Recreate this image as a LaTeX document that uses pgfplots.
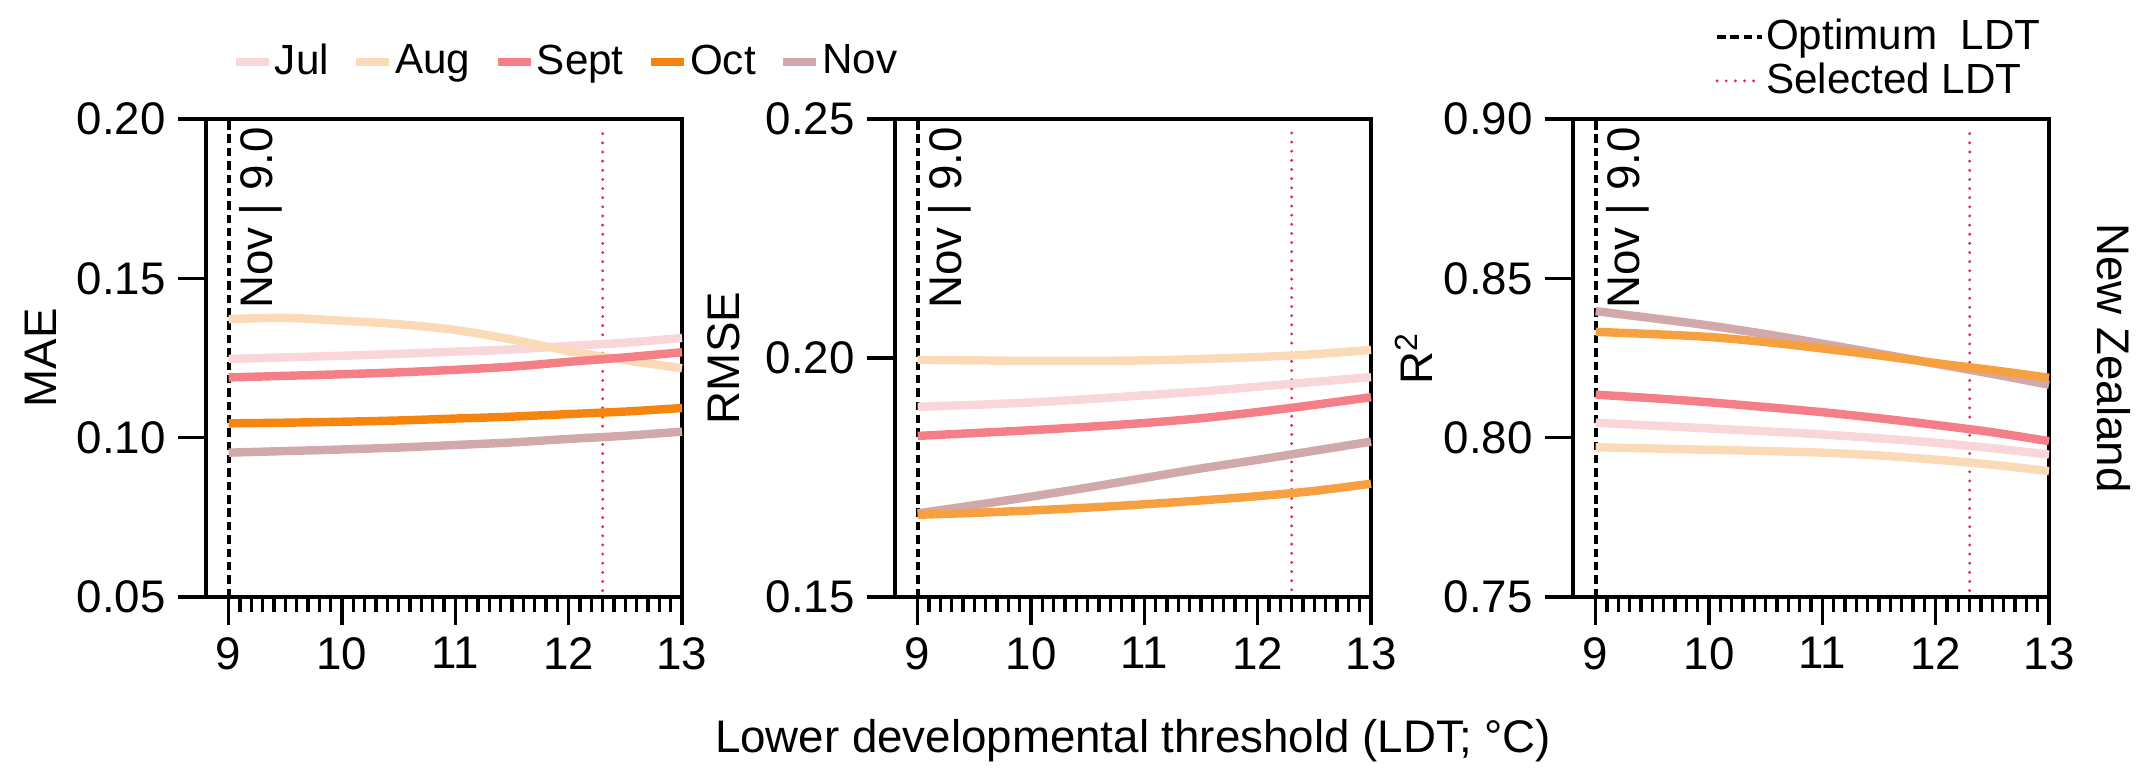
\documentclass[border=0pt]{standalone}
\usepackage{fontspec}
\setmainfont{Liberation Sans}
\usepackage{pgfplots}
\usepackage{pgfplotstable}
\pgfplotsset{compat=1.18}

\definecolor{cJul}{HTML}{F9D6DA}
\definecolor{cAug}{HTML}{FBDAB8}
\definecolor{cSep}{HTML}{F47F86}
\definecolor{cOctA}{HTML}{F5850F}
\definecolor{cOctB}{HTML}{F6A040}
\definecolor{cNov}{HTML}{D1A9AB}
\definecolor{cSel}{HTML}{E0284F}

\pgfplotstableread{
x    jul    aug    sept   oct    nov
9    0.1247 0.1372 0.1189 0.1045 0.0953
9.5  0.1252 0.1376 0.1194 0.1047 0.0958
10   0.1257 0.1367 0.1199 0.1050 0.0963
10.5 0.1263 0.1356 0.1205 0.1054 0.0969
11   0.1270 0.1338 0.1213 0.1060 0.0977
11.5 0.1277 0.1308 0.1223 0.1066 0.0985
12   0.1288 0.1272 0.1238 0.1074 0.0996
12.5 0.1298 0.1243 0.1252 0.1082 0.1006
13   0.1313 0.1218 0.1268 0.1093 0.1019
}\maetab

\pgfplotstableread{
x    jul    aug    sept   oct    nov
9    0.1898 0.1996 0.1837 0.1672 0.1675
9.5  0.1902 0.1995 0.1843 0.1676 0.1692
10   0.1907 0.1994 0.1849 0.1681 0.1710
10.5 0.1914 0.1994 0.1856 0.1687 0.1729
11   0.1922 0.1995 0.1864 0.1694 0.1749
11.5 0.1930 0.1998 0.1874 0.1702 0.1769
12   0.1940 0.2002 0.1887 0.1711 0.1787
12.5 0.1950 0.2008 0.1902 0.1722 0.1806
13   0.1960 0.2017 0.1918 0.1737 0.1825
}\rmsetab

\pgfplotstableread{
x    jul    aug    sept   oct    nov
9    0.8047 0.7970 0.8135 0.8332 0.8397
9.5  0.8038 0.7966 0.8124 0.8325 0.8375
10   0.8029 0.7962 0.8111 0.8316 0.8352
10.5 0.8020 0.7958 0.8096 0.8300 0.8325
11   0.8010 0.7953 0.8080 0.8280 0.8295
11.5 0.7998 0.7944 0.8061 0.8258 0.8264
12   0.7984 0.7931 0.8040 0.8234 0.8232
12.5 0.7967 0.7915 0.8017 0.8212 0.8200
13   0.7947 0.7895 0.7989 0.8188 0.8166
}\rtab

\pgfplotsset{
  panel/.style={
    scale only axis, width=47.6mm, height=47.8mm, anchor=south west,
    clip=false,
    xmin=8.8, xmax=13, xtick={9,10,11,12,13}, minor x tick num=9,
    tick align=outside, xtick pos=bottom, ytick pos=left,
    major tick length=2.8mm, minor tick length=1.5mm,
    axis line style={line width=1pt},
    tick style={black, line width=1pt},
    /pgf/number format/assume math mode=true,
    tick label style={font=\fontsize{13}{15}\selectfont},
    label style={font=\fontsize{13}{15}\selectfont},
    yticklabel style={/pgf/number format/.cd, fixed, fixed zerofill, precision=2},
    legend style={draw=none, fill=none, font=\fontsize{12}{14}\selectfont},
  },
  mline/.style={line width=2.4pt, smooth},
  optline/.style={black, line width=1.1pt, dash pattern=on 2.4pt off 1.4pt},
  selline/.style={cSel, line width=0.9pt, line cap=round, dash pattern=on 0pt off 2.6pt},
}

\begin{document}
\begin{tikzpicture}
\useasboundingbox (0,0) rectangle (215.3mm,77mm);

% ---------- MAE ----------
\begin{axis}[panel, at={(20.6mm,17.3mm)},
  ymin=0.05, ymax=0.20, ytick={0.05,0.10,0.15,0.20},
  ylabel={MAE}, ylabel style={at={(axis description cs:-0.347,0.5)}, anchor=center},
  legend columns=5,
  legend style={at={(axis description cs:0.03,1.119)}, anchor=west,
    /tikz/every even column/.append style={column sep=1.6mm},
    /tikz/every odd column/.append style={column sep=-0.5mm}},
  legend image code/.code={\draw[#1] (0mm,0mm) -- (3.3mm,0mm);}]
\addplot[optline, forget plot] coordinates {(9,0.05) (9,0.20)};
\addplot[selline, forget plot] coordinates {(12.3,0.052) (12.3,0.197)};
\addplot[mline, cJul] table[x=x, y=jul] {\maetab}; \addlegendentry{Jul}
\addplot[mline, cAug] table[x=x, y=aug] {\maetab}; \addlegendentry{Aug}
\addplot[mline, cSep] table[x=x, y=sept] {\maetab}; \addlegendentry{Sept}
\addplot[mline, cOctA] table[x=x, y=oct] {\maetab}; \addlegendentry{Oct}
\addplot[mline, cNov] table[x=x, y=nov] {\maetab}; \addlegendentry{Nov}
\node[rotate=90, anchor=north east, inner sep=0pt, font=\fontsize{13}{15}\selectfont]
  at (rel axis cs:0.069,0.985) {Nov | 9.0};
\end{axis}

% ---------- RMSE ----------
\begin{axis}[panel, at={(89.5mm,17.3mm)},
  ymin=0.15, ymax=0.25, ytick={0.15,0.20,0.25},
  ylabel={RMSE}, ylabel style={at={(axis description cs:-0.359,0.5)}, anchor=center},
  xlabel={Lower developmental threshold (LDT; °C)},
  xlabel style={at={(axis description cs:0.5,-0.301)}, anchor=center}]
\addplot[optline] coordinates {(9,0.15) (9,0.25)};
\addplot[selline] coordinates {(12.3,0.1515) (12.3,0.248)};
\addplot[mline, cJul] table[x=x, y=jul] {\rmsetab};
\addplot[mline, cAug] table[x=x, y=aug] {\rmsetab};
\addplot[mline, cSep] table[x=x, y=sept] {\rmsetab};
\addplot[mline, cNov] table[x=x, y=nov] {\rmsetab};
\addplot[mline, cOctB] table[x=x, y=oct] {\rmsetab};
\node[rotate=90, anchor=north east, inner sep=0pt, font=\fontsize{13}{15}\selectfont]
  at (rel axis cs:0.069,0.985) {Nov | 9.0};
\end{axis}

% ---------- R2 ----------
\begin{axis}[panel, at={(157.3mm,17.3mm)},
  ymin=0.75, ymax=0.90, ytick={0.75,0.80,0.85,0.90},
  ylabel={R\textsuperscript{2}}, ylabel style={at={(axis description cs:-0.334,0.5)}, anchor=center},
  legend columns=1, legend cell align=left,
  legend style={at={(axis description cs:1.02,1.24)}, anchor=north east,
    /tikz/every odd column/.append style={column sep=-0.5mm},
    row sep=-0.6mm},
  legend image code/.code={\draw[#1] (0mm,0mm) -- (4.5mm,0mm);}]
\addplot[optline] coordinates {(9,0.75) (9,0.90)}; \addlegendentry{Optimum\ \ LDT}
\addplot[selline] coordinates {(12.3,0.752) (12.3,0.897)}; \addlegendentry{Selected LDT}
\addplot[mline, cJul, forget plot] table[x=x, y=jul] {\rtab};
\addplot[mline, cAug, forget plot] table[x=x, y=aug] {\rtab};
\addplot[mline, cSep, forget plot] table[x=x, y=sept] {\rtab};
\addplot[mline, cNov, forget plot] table[x=x, y=nov] {\rtab};
\addplot[mline, cOctB, forget plot] table[x=x, y=oct] {\rtab};
\node[rotate=90, anchor=north east, inner sep=0pt, font=\fontsize{13}{15}\selectfont]
  at (rel axis cs:0.069,0.985) {Nov | 9.0};
\node[rotate=-90, anchor=center, font=\fontsize{13}{15}\selectfont]
  at (axis description cs:1.137,0.5) {New Zealand};
\end{axis}
\end{tikzpicture}
\end{document}
